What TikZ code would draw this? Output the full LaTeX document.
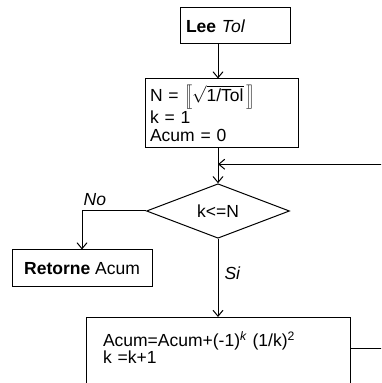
\documentclass[tikz,border=0pt]{standalone}
\usepackage{fontspec}
\setmainfont{Liberation Sans}
\usetikzlibrary{shapes.geometric,arrows.meta,calc}
\begin{document}
\begin{tikzpicture}[x=1pt,y=1pt,
  font=\fontsize{17.5}{18.5}\selectfont,
  box/.style={draw, line width=1pt, rectangle, inner sep=5pt},
  arr/.style={draw, line width=1pt, -{Straight Barb[length=6pt,width=10pt]}},
  lab/.style={font=\fontsize{17.5}{18.5}\selectfont\itshape, inner sep=2pt}]
\clip (0,0) rectangle (381,383);
\node[box, minimum width=110, minimum height=36, text width=98, align=left] (lee) at (235,357) {\textbf{Lee} \textit{Tol}};
\node[box, minimum width=153, minimum height=69, text width=143, align=left] (nbox) at (221.5,269.5)
  {N = $\left[\!\left[\sqrt{\mbox{1/Tol}}\,\right]\!\right]$\\k = 1\\Acum = 0};
\node[draw, line width=1pt, diamond, minimum width=143, minimum height=52, inner sep=0pt] (dia) at (218,172) {k<=N};
\node[box, minimum width=140, minimum height=37] (ret) at (82,114.5) {\textbf{Retorne} Acum};
\node[box, anchor=north, inner xsep=17pt, inner ysep=15pt, text width=230, align=left, text height=14pt, text depth=60pt,
  font=\fontsize{17.5}{15.5}\selectfont] (bot) at (218,66)
  {Acum=Acum+(-1)\textsuperscript{\itshape k} (1/k)\textsuperscript{2}\\k =k+1};
\coordinate (j) at ($(dia.north)+(0,19)$);
\draw[arr] (lee.south -| dia.north) -- (nbox.north -| dia.north);
\draw[arr] (nbox.south -| dia.north) -- (dia.north);
\draw[arr] ($(bot.north east)+(0,-32)$) -- ++(40,0) |- (j);
\draw[arr] (dia.west) -| node[lab, pos=0.4, above=3pt] (no) {No} (ret.north);
\draw[arr] (dia.south) -- node[lab, pos=0.44, right=4pt] (si) {Si} (bot.north -| dia.south);
\end{tikzpicture}
\end{document}
